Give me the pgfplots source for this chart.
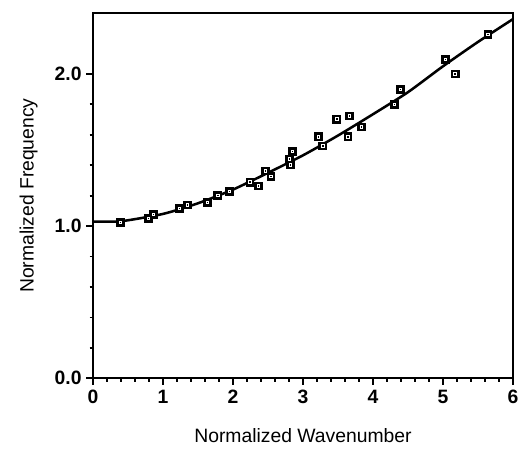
\documentclass[border=0pt]{standalone}
\usepackage{pgfplots}
\pgfplotsset{compat=1.18}
\usepackage{fontspec}
\setmainfont{Liberation Sans}
\begin{document}
\begin{tikzpicture}
\begin{axis}[
    width=315pt,
    height=274pt,
    scale only axis,
    xmin=0, xmax=6,
    ymin=0, ymax=2.4,
    xtick={0,1,2,3,4,5,6},
    ytick={0,1,2},
    yticklabels={0.0,1.0,2.0},
    minor x tick num=4,
    minor y tick num=4,
    tick align=outside,
    xtick pos=left,
    ytick pos=left,
    major tick length=5pt,
    minor tick length=2.5pt,
    axis line style={line width=1.5pt},
    every tick/.style={black,line width=1.4pt},
    tick label style={font=\fontsize{14.5}{16}\selectfont\bfseries},
    /pgf/number format/assume math mode=true,
    xlabel={Normalized Wavenumber},
    ylabel={Normalized Frequency},
    label style={font=\fontsize{14.5}{16}\selectfont},
    xlabel style={yshift=-12pt},
    ylabel style={yshift=6pt},
    clip=false,
]
\coordinate (ll) at (rel axis cs:0,0);
\coordinate (ur) at (rel axis cs:1,1);
\addplot[black, line width=1.9pt, smooth, tension=0.4] coordinates {
    (0,1.03) (0.4,1.032) (1,1.08) (1.5,1.15) (2,1.24) (2.5,1.35)
    (3,1.465) (3.5,1.595) (4,1.735) (4.5,1.88) (5,2.05) (5.5,2.21) (6,2.36)
};
\pgfplotstableread{
x y
0.39 1.026
0.79 1.050
0.86 1.077
1.23 1.116
1.35 1.140
1.63 1.155
1.78 1.204
1.95 1.228
2.24 1.290
2.36 1.265
2.46 1.364
2.54 1.329
2.80 1.443
2.82 1.403
2.85 1.490
3.22 1.588
3.28 1.528
3.48 1.704
3.64 1.588
3.66 1.724
3.83 1.653
4.30 1.800
4.39 1.899
5.03 2.096
5.17 2.000
5.64 2.260
}\pts
\addplot[only marks, mark=square*, mark size=2.9pt, mark options={fill=black, draw=black}] table {\pts};
\addplot[only marks, mark=square, mark size=0.9pt, mark options={draw=white, line width=0.4pt}] table {\pts};
\end{axis}
\pgfresetboundingbox
\path ([xshift=-69.75pt,yshift=-52.5pt]ll) rectangle ([xshift=5.25pt,yshift=9.75pt]ur);
\end{tikzpicture}
\end{document}
